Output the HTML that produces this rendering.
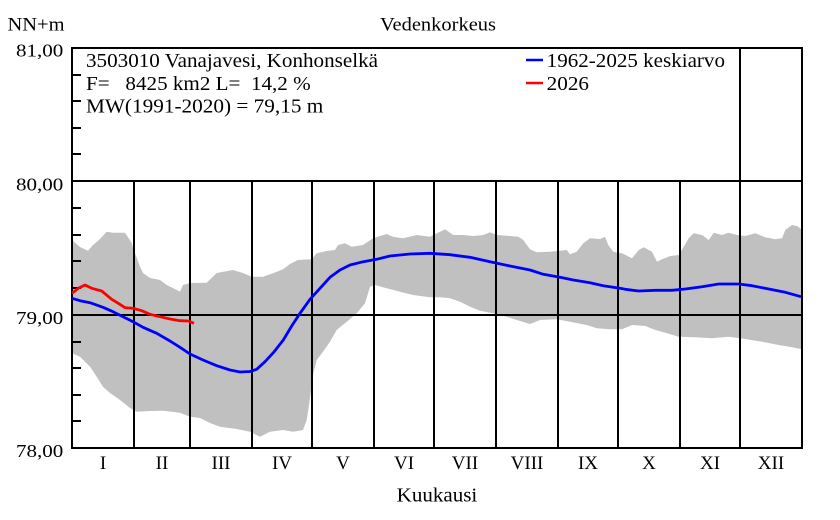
<!DOCTYPE html>
<html>
<head>
<meta charset="utf-8">
<style>
html,body{margin:0;padding:0;background:#fff;}
svg{display:block;}
text{font-family:"Liberation Serif","DejaVu Serif",serif;fill:#000;}
</style>
</head>
<body>
<svg width="840" height="520" viewBox="0 0 840 520" xmlns="http://www.w3.org/2000/svg">
<rect x="0" y="0" width="840" height="520" fill="#fff"/>

<!-- gray min/max band -->
<polygon fill="#c0c0c0" points="
72,240 80,247 88,250.7 93,245 100,239 106.7,231.7 113,232.7 125,232.7 131.7,243 135,253 140,266.7 143,273 150,278 160,280 166.7,285 176.7,290 180,291.7 183,285 190,283 206.7,282.7 216.7,273 233,270 243,273 251.7,276.7 263,276.7 273,273.3 283,269.3 290,264 298,260 311.7,259.3 316.7,253.3 326.7,251 335,250 338,245 345,243.3 351.7,246.7 363,245 373,238.3 386.7,234 393,236.7 403,238.3 416.7,235 430,236.7 440,231.7 445,229.3 453.3,235 463.3,235 473.3,236 483.3,235 490,232.3 496.7,235 510,236 518.3,236.7 523.3,240 530,249.3 536.7,252.3 550,251.7 560,250.7 566.7,250 570,254.3 576.7,251.7 583.3,243.3 590,238.3 600,239 605,236.7 608.3,245 613.3,251.7 622,253.3 632,258.3 638.7,250 643.7,247.3 652,251.7 657,261.7 662,259.3 670.3,256 678.7,255 683.7,246.7 688.7,238.3 693.7,233.3 702,235 708.7,240 713.7,232.7 722,235 728.7,232.7 737,235 745.3,236 755.3,233.3 765.3,237.3 775.3,239.3 782,238.3 785.3,230 792,225 797,226 802,230
802,349.3 792,347.3 778.7,345 762,341.7 745.3,339 728.7,336.7 712,338.3 695.3,337.3 678.7,336.7 665.3,332.7 655.3,330 645.3,326 632,325 622,329.3 610,329.3 596.7,328.3 586.7,325 570,321.7 556.7,319.3 540,320 530,324 516.7,320 506.7,316.7 496.7,314 480,310.7 470,306.7 460,301.7 450,298.3 440,297.3 430,297.3 413,295 400,291.7 386.7,288.3 375,285 370,286.7 365,303.3 356.7,313.3 346.7,321.7 336.7,330 330,341.7 323,351.7 316.7,360 313.3,373.3 309,405 306.7,420 303,430 293,431.7 283,430 270,431.7 260,436.7 250,431.7 236.7,429 220,426.7 210,423 200,418 190,416.7 180,412.7 163,410.7 150,411 136.7,411.7 130,408 120,400 110,393 103,386.7 96.7,376.7 90,366.7 80,356.7 72,353"/>

<!-- grid lines -->
<g stroke="#000" stroke-width="2" fill="none">
  <line x1="72" y1="181" x2="802" y2="181"/>
  <line x1="72" y1="315" x2="802" y2="315"/>
  <line x1="134" y1="181" x2="134" y2="448"/>
  <line x1="190" y1="181" x2="190" y2="448"/>
  <line x1="252" y1="181" x2="252" y2="448"/>
  <line x1="312" y1="181" x2="312" y2="448"/>
  <line x1="374" y1="181" x2="374" y2="448"/>
  <line x1="434" y1="181" x2="434" y2="448"/>
  <line x1="496" y1="181" x2="496" y2="448"/>
  <line x1="558" y1="181" x2="558" y2="448"/>
  <line x1="618" y1="181" x2="618" y2="448"/>
  <line x1="680" y1="181" x2="680" y2="448"/>
  <line x1="740" y1="47" x2="740" y2="448"/>
  <!-- minor ticks -->
  <line x1="72" y1="75" x2="81" y2="75"/>
  <line x1="72" y1="101" x2="81" y2="101"/>
  <line x1="72" y1="128" x2="81" y2="128"/>
  <line x1="72" y1="154" x2="81" y2="154"/>
  <line x1="72" y1="208" x2="81" y2="208"/>
  <line x1="72" y1="235" x2="81" y2="235"/>
  <line x1="72" y1="261" x2="81" y2="261"/>
  <line x1="72" y1="288" x2="81" y2="288"/>
  <line x1="72" y1="342" x2="81" y2="342"/>
  <line x1="72" y1="368" x2="81" y2="368"/>
  <line x1="72" y1="395" x2="81" y2="395"/>
  <line x1="72" y1="421" x2="81" y2="421"/>
  <!-- frame -->
  <rect x="72" y="48" width="730" height="400"/>
</g>

<!-- mean line -->
<polyline fill="none" stroke="#0000ff" stroke-width="2.8" stroke-linejoin="round" points="72,298.3 80,300.7 90,302.7 103,307.3 113,311.7 123,316.7 133,321.7 143,327.3 156.7,333.3 170,341 180,347.3 190,354 203,360 216.7,365.7 230,370 240,372 250,371.5 256.7,369.3 265,361.7 273.3,352.7 283.3,340 291.7,326 300,313.3 310,299.3 320,288.3 330,277.3 340,270 350,265 363.3,261.7 376.7,259.3 390,256 410,254 430,253.3 450,254.7 470,257.3 490,261.7 510,266 530,270 543.3,274.3 560,277.3 573.3,280 590,282.7 603.3,285.7 620,288.3 625.3,289.3 638.7,291 655.3,290.3 672,290.3 685.3,289 702,286.7 718.7,284 738.7,284 752,285.7 768.7,289 785.3,292.3 801,296.7"/>

<!-- 2026 line -->
<polyline fill="none" stroke="#ff0000" stroke-width="2.8" stroke-linejoin="round" points="72,293.3 78.3,288.3 85,285 91.7,288.3 101.7,291 111.7,299.3 118.3,303.3 125,307.7 133.3,308.3 141.7,310.7 150,314.3 160,316.7 170,319 180,320.7 188.3,321 194,323.3"/>

<!-- titles -->
<text x="7.5" y="30.5" font-size="19" textLength="57" lengthAdjust="spacingAndGlyphs">NN+m</text>
<text x="380" y="30.5" font-size="19" textLength="116" lengthAdjust="spacingAndGlyphs">Vedenkorkeus</text>
<text x="396.7" y="501.5" font-size="20" textLength="80.6" lengthAdjust="spacingAndGlyphs">Kuukausi</text>

<!-- y labels -->
<text x="16" y="56.5" font-size="18" textLength="47.3" lengthAdjust="spacingAndGlyphs">81,00</text>
<text x="16" y="190.5" font-size="18" textLength="47.3" lengthAdjust="spacingAndGlyphs">80,00</text>
<text x="16" y="324" font-size="18" textLength="47.3" lengthAdjust="spacingAndGlyphs">79,00</text>
<text x="16" y="457" font-size="18" textLength="47.3" lengthAdjust="spacingAndGlyphs">78,00</text>

<!-- month labels -->
<g font-size="19" text-anchor="middle">
  <text x="103" y="469">I</text>
  <text x="162" y="469">II</text>
  <text x="221" y="469">III</text>
  <text x="282" y="469">IV</text>
  <text x="343" y="469">V</text>
  <text x="404" y="469">VI</text>
  <text x="465" y="469">VII</text>
  <text x="527" y="469">VIII</text>
  <text x="588" y="469">IX</text>
  <text x="649" y="469">X</text>
  <text x="710" y="469">XI</text>
  <text x="771" y="469">XII</text>
</g>

<!-- info text -->
<text x="86" y="67" font-size="20" textLength="292" lengthAdjust="spacingAndGlyphs">3503010 Vanajavesi, Konhonselkä</text>
<text x="86" y="90" font-size="20" textLength="224.7" lengthAdjust="spacingAndGlyphs">F=&#160;&#160;&#160;8425 km2 L=&#160;&#160;14,2 %</text>
<text x="86" y="112.5" font-size="20" textLength="237.3" lengthAdjust="spacingAndGlyphs">MW(1991-2020) = 79,15 m</text>

<!-- legend -->
<line x1="526" y1="60" x2="543" y2="60" stroke="#0000ff" stroke-width="2.6"/>
<text x="546.7" y="67" font-size="20" textLength="178.3" lengthAdjust="spacingAndGlyphs">1962-2025 keskiarvo</text>
<line x1="526" y1="83" x2="543" y2="83" stroke="#ff0000" stroke-width="2.6"/>
<text x="546.7" y="90" font-size="20" textLength="42.3" lengthAdjust="spacingAndGlyphs">2026</text>
</svg>
</body>
</html>
